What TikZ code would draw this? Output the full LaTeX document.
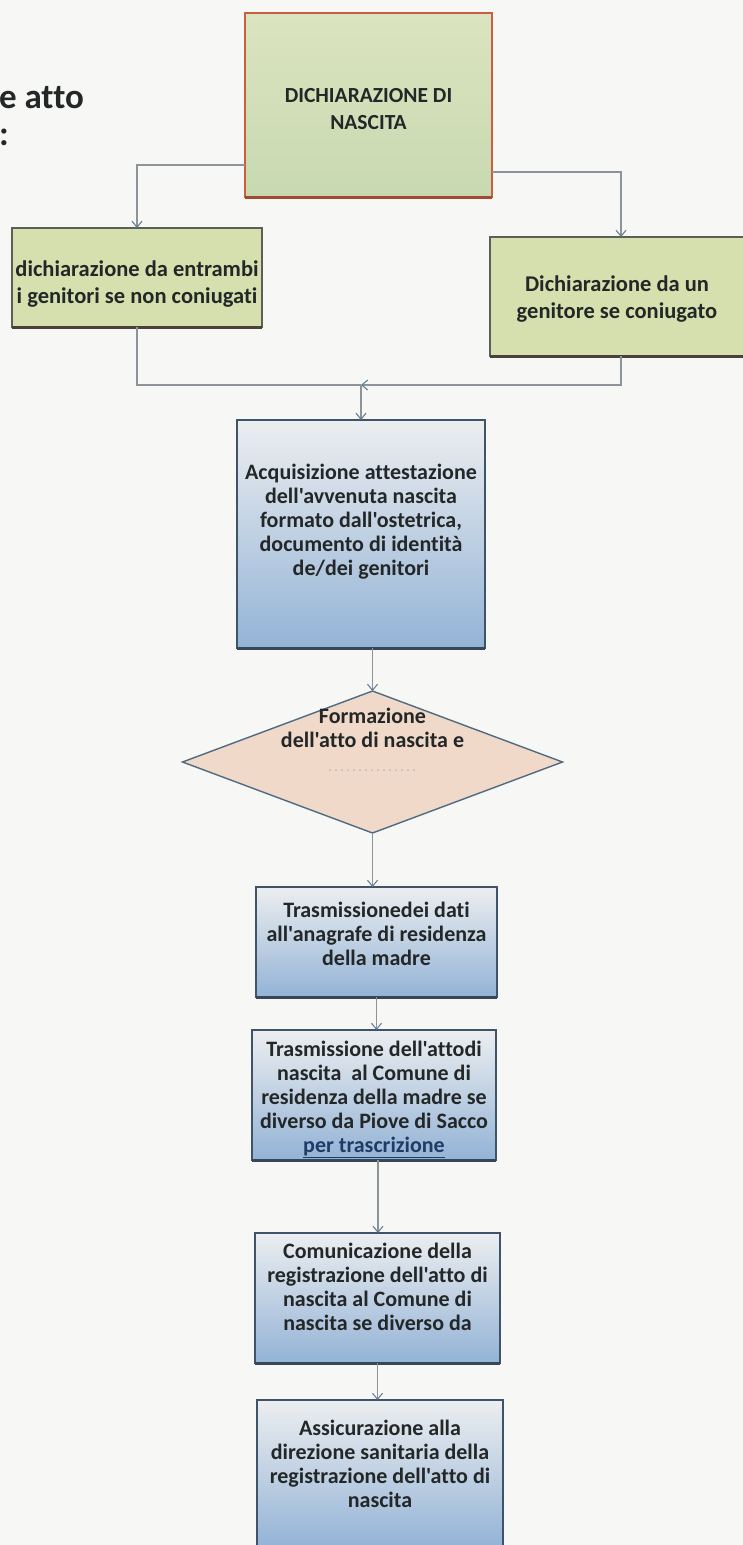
\documentclass[tikz,border=0pt]{standalone}
\usepackage{fontspec}
\setmainfont{Carlito}[Ligatures={CommonOff,TeXOff}]
\usetikzlibrary{arrows.meta,shapes.geometric,calc}
\definecolor{bg}{HTML}{F7F7F5}
\definecolor{txtc}{HTML}{232727}
\definecolor{gtop}{HTML}{DBE4C0}
\definecolor{gbot}{HTML}{C8D9B0}
\definecolor{gborder}{HTML}{C8603F}
\definecolor{gbottom}{HTML}{A24A32}
\definecolor{yg}{HTML}{D6DFAE}
\definecolor{ygborder}{HTML}{5C5E58}
\definecolor{ygbottom}{HTML}{4A4238}
\definecolor{btop}{HTML}{ECEEF0}
\definecolor{bbot}{HTML}{93B3D6}
\definecolor{bborder}{HTML}{3F5468}
\definecolor{peach}{HTML}{F1D9C9}
\definecolor{dborder}{HTML}{4E6B82}
\definecolor{linec}{HTML}{8C9399}
\definecolor{tipc}{HTML}{5E7A93}
\definecolor{linkc}{HTML}{1F3B66}
\begin{document}
\begin{tikzpicture}[x=1pt,y=-1pt,
  txt/.style={text=txtc, font=\bfseries\fontsize{22}{24}\selectfont, align=center},
  base/.style={inner sep=0pt, outer sep=0pt},
  greenbox/.style={base, draw=gborder, line width=1.4pt, top color=gtop, bottom color=gbot},
  ygbox/.style={base, draw=ygborder, line width=1.2pt, fill=yg},
  bluebox/.style={base, draw=bborder, line width=1.3pt, top color=btop, bottom color=bbot},
  dia/.style={base, shape=diamond, draw=dborder, line width=1.4pt, fill=peach},
  line/.style={draw=linec, line width=1.1pt},
  conn/.style={line, -{Straight Barb[length=6pt,width=10pt,line width=1pt,color=tipc]}},
  bedge/.style={line width=3pt, line cap=butt},
  titlef/.style={base, anchor=west, text=txtc, font=\bfseries\fontsize{35}{36}\selectfont},
]
\fill[bg] (0,0) rectangle (743,1545);
\useasboundingbox (0,0) rectangle (743,1545);

% title fragment
\node[titlef] (title1) at (-1,98) {e atto};
\node[titlef] (title2) at (-1,137) {:};

% boxes
\node[greenbox, minimum width=247pt, minimum height=184pt] (top) at (368.5,105) {};
\node[txt, font=\bfseries\fontsize{21.5}{27}\selectfont] (toptext) at (368.5,109) {DICHIARAZIONE DI\\NASCITA};

\node[ygbox, minimum width=250pt, minimum height=99pt] (left) at (137,277.5) {};
\node[txt, font=\bfseries\fontsize{22.5}{27}\selectfont] (lefttext) at (137,284) {dichiarazione da entrambi\\i genitori se non coniugati};

\node[ygbox, minimum width=254pt, minimum height=119pt] (right) at (617,296.5) {};
\node[txt, font=\bfseries\fontsize{22.5}{27}\selectfont] (righttext) at (617,299) {Dichiarazione da un\\genitore se coniugato};

\node[bluebox, minimum width=248pt, minimum height=228pt] (acq) at (361,534) {};
\node[txt] (acqtext) at (361,522) {Acquisizione attestazione\\dell'avvenuta nascita\\formato dall'ostetrica,\\documento di identità\\de/dei genitori};

\node[dia, minimum width=380pt, minimum height=142pt] (dia) at (372.5,762) {};
\node[txt] (diatext) at (372.5,728) {Formazione\\dell'atto di nascita e};
\draw[gray!55, line width=2pt, line cap=round, dash pattern=on 0pt off 6pt] (330,770) -- (418,770);

\node[bluebox, minimum width=241pt, minimum height=110pt] (b3) at (376.5,942) {};
\node[txt] (b3text) at (376.5,934) {Trasmissionedei dati\\all'anagrafe di residenza\\della madre};

\node[bluebox, minimum width=244pt, minimum height=130pt] (b4) at (374,1095) {};
\node[txt] (b4text) at (374,1099) {Trasmissione dell'attodi\\nascita \ al Comune di\\residenza della madre se\\diverso da Piove di Sacco\\\textcolor{linkc}{\underline{per trascrizione}}};

\node[bluebox, minimum width=245pt, minimum height=130pt] (b5) at (377.5,1298) {};
\node[txt] (b5text) at (377.5,1287) {Comunicazione della\\registrazione dell'atto di\\nascita al Comune di\\nascita se diverso da};

\node[bluebox, minimum width=246pt, minimum height=148pt] (b6) at (380,1474) {};
\node[txt] (b6text) at (380,1464) {Assicurazione alla\\direzione sanitaria della\\registrazione dell'atto di\\nascita};

% thick bottom edges
\draw[bedge, gbottom] (top.south west) -- (top.south east);
\draw[bedge, ygbottom] (left.south west) -- (left.south east);
\draw[bedge, ygbottom] (right.south west) -- (right.south east);
\foreach \n in {acq,b3,b4,b5}{\draw[bedge, bborder!85!black] (\n.south west) -- (\n.south east);}

% connectors
\draw[conn] ($(top.west)+(0,60)$) -| (left.north);
\draw[conn] ($(top.east)+(0,67)$) -| ($(right.north)+(4,0)$);
\coordinate (j) at (361,385);
\draw[line] (left.south) |- (j);
\draw[conn] ($(right.south)+(4,0)$) |- (j);
\draw[conn] (j) -- (acq.north);
\draw[conn] (acq.south -| dia.north) -- (dia.north);
\draw[conn] (dia.south) -- (dia.south |- b3.north);
\draw[conn] (b3.south) -- (b3.south |- b4.north);
\draw[conn] ($(b4.south)+(4,0)$) -- ($(b4.south |- b5.north)+(4,0)$);
\draw[conn] (b5.south) -- (b5.south |- b6.north);
\end{tikzpicture}
\end{document}
